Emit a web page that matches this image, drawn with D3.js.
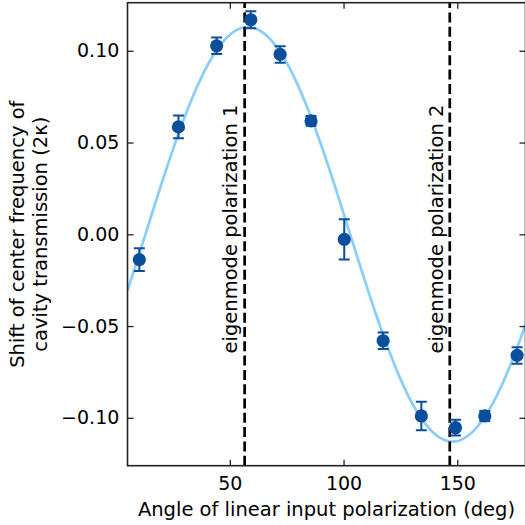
<!DOCTYPE html>
<html>
<head>
<meta charset="utf-8">
<script src="https://cdn.jsdelivr.net/npm/d3@7"></script>
<style>
  html, body { margin: 0; padding: 0; background: #fff; }
  svg { display: block; font-family: "DejaVu Sans", sans-serif; }
</style>
</head>
<body>
<div id="chart"></div>
<script>
// Measured shift of the cavity resonance vs. input polarization angle
const angles = [10.2, 27.4, 44.2, 59.2, 72.1, 85.7, 100.3, 117.4, 134.2, 149.2, 162.1, 176.3];
const shifts = [-0.0138, 0.0585, 0.1027, 0.1169, 0.0980, 0.0618, -0.0028, -0.0580, -0.0990, -0.1054, -0.0990, -0.0660];
const errors = [0.0062, 0.0062, 0.0045, 0.0046, 0.0045, 0.0027, 0.0110, 0.0045, 0.0078, 0.0043, 0.0027, 0.0045];

// Sinusoidal fit, sampled every 5 degrees
const fitAngles = [5, 10, 15, 20, 25, 30, 35, 40, 45, 50, 55, 60, 65, 70, 75, 80, 85, 90,
                   95, 100, 105, 110, 115, 120, 125, 130, 135, 140, 145, 150, 155, 160, 165, 170, 175, 180];
const fitShifts = [-0.0308, -0.0114, 0.0083, 0.0277, 0.0463, 0.0635, 0.0788, 0.0917, 0.1017, 0.1087,
                   0.1124, 0.1127, 0.1095, 0.1031, 0.0935, 0.0810, 0.0661, 0.0492, 0.0308, 0.0114,
                   -0.0083, -0.0277, -0.0463, -0.0635, -0.0788, -0.0917, -0.1017, -0.1087, -0.1124, -0.1127,
                   -0.1095, -0.1031, -0.0935, -0.0810, -0.0661, -0.0492];

// Polarization eigenmodes
const eigenAngles = [56.5, 146.7];
const eigenLabels = ["eigenmode polarization 1", "eigenmode polarization 2"];

const xTicks = [50, 100, 150];
const yTicks = [-0.10, -0.05, 0.00, 0.05, 0.10];

const W = 525, H = 525;
const plot = { left: 127.5, right: 525.5, top: 2.7, bottom: 465.7 };

const x = d3.scaleLinear().domain([5, 180]).range([plot.left, plot.right]);
const y = d3.scaleLinear().domain([-0.1261, 0.1262]).range([plot.bottom, plot.top]);

const svg = d3.select("#chart").append("svg")
  .attr("width", W).attr("height", H);

svg.append("defs").append("clipPath").attr("id", "clip")
  .append("rect")
  .attr("x", plot.left).attr("y", plot.top)
  .attr("width", plot.right - plot.left).attr("height", plot.bottom - plot.top);

const inner = svg.append("g").attr("clip-path", "url(#clip)");

// fit curve
const fitData = fitAngles.map((a, i) => [a, fitShifts[i]]);
inner.append("path")
  .datum(fitData)
  .attr("fill", "none")
  .attr("stroke", "#87cefa")
  .attr("stroke-width", 2.7)
  .attr("d", d3.line().x(d => x(d[0])).y(d => y(d[1])).curve(d3.curveCatmullRom));

// eigenmode lines, drawn bottom to top
inner.selectAll("line.eigen")
  .data(eigenAngles)
  .join("line")
  .attr("class", "eigen")
  .attr("x1", d => x(d)).attr("x2", d => x(d))
  .attr("y1", plot.bottom).attr("y2", plot.top)
  .attr("stroke", "#000")
  .attr("stroke-width", 2.7)
  .attr("stroke-dasharray", "10,4.3");

// eigenmode labels
svg.selectAll("text.eigen")
  .data(eigenAngles)
  .join("text")
  .attr("class", "eigen")
  .attr("transform", d => `translate(${x(d) - 7.2},353.5) rotate(-90)`)
  .attr("text-anchor", "start")
  .attr("font-size", 19.5)
  .attr("fill", "#000")
  .text((d, i) => eigenLabels[i]);

// error bars
const markColor = "#0b4f9c";
const pts = angles.map((a, i) => ({ a, v: shifts[i], e: errors[i] }));
const eb = inner.append("g");
eb.selectAll("line.stem").data(pts).join("line")
  .attr("x1", d => x(d.a)).attr("x2", d => x(d.a))
  .attr("y1", d => y(d.v - d.e)).attr("y2", d => y(d.v + d.e))
  .attr("stroke", markColor).attr("stroke-width", 2);
eb.selectAll("line.capTop").data(pts).join("line")
  .attr("x1", d => x(d.a) - 5.5).attr("x2", d => x(d.a) + 5.5)
  .attr("y1", d => y(d.v + d.e)).attr("y2", d => y(d.v + d.e))
  .attr("stroke", markColor).attr("stroke-width", 2);
eb.selectAll("line.capBot").data(pts).join("line")
  .attr("x1", d => x(d.a) - 5.5).attr("x2", d => x(d.a) + 5.5)
  .attr("y1", d => y(d.v - d.e)).attr("y2", d => y(d.v - d.e))
  .attr("stroke", markColor).attr("stroke-width", 2);

// markers
inner.selectAll("circle").data(pts).join("circle")
  .attr("cx", d => x(d.a)).attr("cy", d => y(d.v))
  .attr("r", 6.6)
  .attr("fill", markColor);

// axes with inward ticks
const fmtY = v => d3.format(".2f")(v).replace("-", "\u2212");

const gx = svg.append("g").attr("transform", `translate(0,${plot.bottom})`)
  .call(d3.axisBottom(x).tickValues(xTicks).tickSize(-6).tickPadding(10.5).tickFormat(d3.format("d")));
const gxt = svg.append("g").attr("transform", `translate(0,${plot.top})`)
  .call(d3.axisTop(x).tickValues(xTicks).tickSize(-6).tickFormat(""));
const gy = svg.append("g").attr("transform", `translate(${plot.left},0)`)
  .call(d3.axisLeft(y).tickValues(yTicks).tickSize(-6).tickPadding(8.2).tickFormat(fmtY));
const gyr = svg.append("g").attr("transform", `translate(${plot.right},0)`)
  .call(d3.axisRight(y).tickValues(yTicks).tickSize(-6).tickFormat(""));

[gx, gxt, gy, gyr].forEach(g => {
  g.select(".domain").remove();
  g.selectAll(".tick line").attr("stroke", "#222").attr("stroke-width", 1.3);
  g.selectAll(".tick text").attr("font-size", 19).attr("fill", "#000")
    .attr("font-family", "DejaVu Sans, sans-serif");
});

// frame
svg.append("rect")
  .attr("x", plot.left).attr("y", plot.top)
  .attr("width", plot.right - plot.left).attr("height", plot.bottom - plot.top)
  .attr("fill", "none").attr("stroke", "#222").attr("stroke-width", 1.6);

// axis titles
svg.append("text")
  .attr("x", (plot.left + plot.right) / 2).attr("y", 515.5)
  .attr("text-anchor", "middle").attr("font-size", 19.5).attr("fill", "#000")
  .text("Angle of linear input polarization (deg)");

const yTitle = svg.append("text")
  .attr("transform", `translate(0,${(plot.top + plot.bottom) / 2}) rotate(-90)`)
  .attr("text-anchor", "middle").attr("font-size", 19.5).attr("fill", "#000");
yTitle.append("tspan").attr("x", 0).attr("y", 24).text("Shift of center frequency of");
yTitle.append("tspan").attr("x", 0).attr("y", 47).text("cavity transmission (2\u03BA)");
</script>
</body>
</html>
